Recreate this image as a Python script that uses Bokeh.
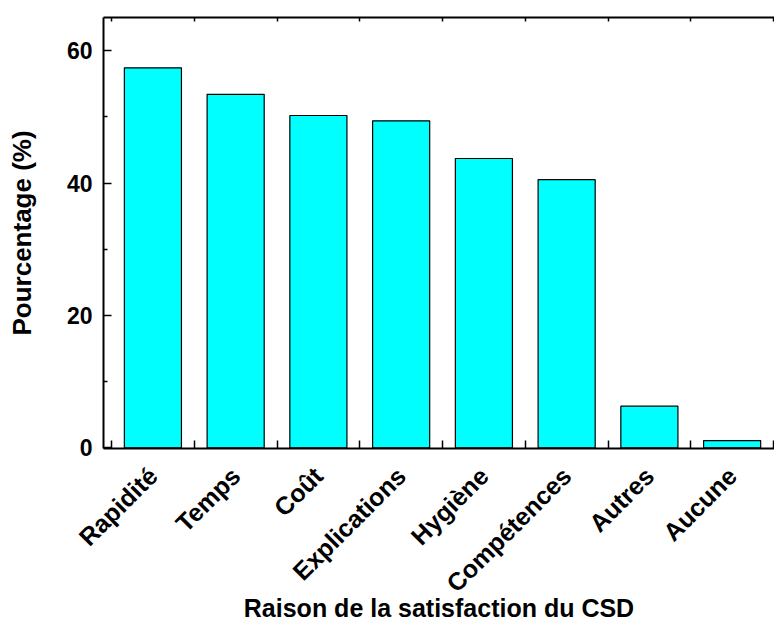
import math
from bokeh.plotting import figure
from bokeh.models import Range1d, FixedTicker, LinearAxis, ColumnDataSource
from bokeh.embed import file_html
from bokeh.resources import INLINE

categories = ["Rapidité", "Temps", "Coût", "Explications", "Hygiène",
              "Compétences", "Autres", "Aucune"]
percentages = [57.4, 53.4, 50.2, 49.4, 43.7, 40.5, 6.3, 1.1]
y_ticks = [0, 20, 40, 60]
y_minor_ticks = [10, 30, 50]
y_title = "Pourcentage (%)"
x_title = "Raison de la satisfaction du CSD"

positions = list(range(1, len(categories) + 1))
boundaries = [p - 0.5 for p in positions] + [positions[-1] + 0.5]

FONT = "Liberation Sans"

src = ColumnDataSource(dict(x=positions, top=percentages, name=categories))

p = figure(frame_width=671, frame_height=431,
           output_backend="svg", toolbar_location=None,
           x_range=Range1d(0.403, 8.512), y_range=Range1d(-0.1, 65.0),
           min_border_left=103, min_border_right=0, min_border_top=17,
           min_border_bottom=10)
p.outline_line_color = None
p.xgrid.visible = False
p.ygrid.visible = False
p.background_fill_color = "white"
p.border_fill_color = "white"

p.vbar(x="x", top="top", bottom=0, width=0.69, source=src,
       fill_color="#00FFFF", line_color="black", line_width=1.2)

# x axis: labels at centres, ticks at boundaries
xa = p.xaxis[0]
xa.ticker = FixedTicker(ticks=positions, minor_ticks=boundaries)
xa.major_label_overrides = {pos: name for pos, name in zip(positions, categories)}
xa.major_label_orientation = math.pi / 4
xa.major_tick_in = 0
xa.major_tick_out = 0
xa.minor_tick_in = 8
xa.minor_tick_out = 0
xa.minor_tick_line_width = 1.5
xa.minor_tick_line_color = "black"
xa.axis_line_width = 2
xa.axis_line_color = "black"
xa.major_label_text_font = FONT
xa.major_label_text_font_style = "bold"
xa.major_label_text_font_size = "25px"
xa.major_label_text_color = "black"
xa.major_label_standoff = 23
xa.axis_label = x_title
xa.axis_label_text_font = FONT
xa.axis_label_text_font_style = "bold"
xa.axis_label_text_font_size = "25px"
xa.axis_label_text_color = "black"
xa.axis_label_standoff = -16

ya = p.yaxis[0]
ya.ticker = FixedTicker(ticks=y_ticks, minor_ticks=y_minor_ticks)
ya.major_tick_in = 8
ya.major_tick_out = 0
ya.minor_tick_in = 4
ya.minor_tick_out = 0
ya.major_tick_line_width = 1.5
ya.minor_tick_line_width = 1.5
ya.major_tick_line_color = "black"
ya.minor_tick_line_color = "black"
ya.axis_line_width = 2
ya.axis_line_color = "black"
ya.major_label_text_font = FONT
ya.major_label_text_font_style = "bold"
ya.major_label_text_font_size = "23px"
ya.major_label_text_color = "black"
ya.major_label_standoff = 11
ya.axis_label = y_title
ya.axis_label_text_font = FONT
ya.axis_label_text_font_style = "bold"
ya.axis_label_text_font_size = "26px"
ya.axis_label_text_color = "black"
ya.axis_label_standoff = 27

top_axis = LinearAxis(ticker=FixedTicker(ticks=[], minor_ticks=boundaries),
                      major_label_text_font_size="0px", major_label_standoff=0,
                      major_tick_in=0, major_tick_out=0,
                      minor_tick_in=4, minor_tick_out=0,
                      minor_tick_line_width=1.5, minor_tick_line_color="black",
                      axis_line_width=2, axis_line_color="black")
p.add_layout(top_axis, "above")

open("out.html", "w").write(file_html(p, INLINE))
